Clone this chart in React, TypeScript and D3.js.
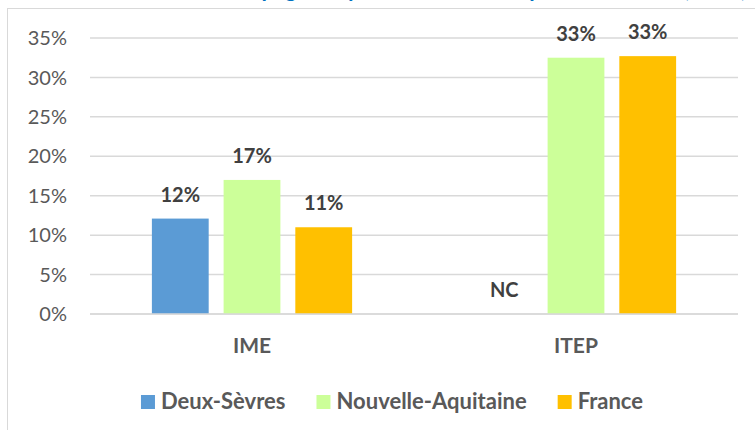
import { useEffect, useRef } from 'react';
import * as d3 from 'd3';

const categories = ['IME', 'ITEP'];
const seriesNames = ['Deux-Sèvres', 'Nouvelle-Aquitaine', 'France'];
const seriesColors = ['#5B9BD5', '#CCFF99', '#FFC000'];
// null = non communiqué (NC)
const deuxSevres = [12.1, null];
const nouvelleAquitaine = [17.0, 32.5];
const france = [11.0, 32.7];
const valueLabels = [['12%', 'NC'], ['17%', '33%'], ['11%', '33%']];
const yTicks = [0, 5, 10, 15, 20, 25, 30, 35];
const title = 'Taux des accompagnés ayant une insertion professionnelle (2019)';

const W = 755;
const H = 430;

export default function App() {
  const ref = useRef<SVGSVGElement>(null);

  useEffect(() => {
    if (!ref.current) return;
    const svg = d3.select(ref.current);
    svg.selectAll('*').remove();

    const font = 'Lato, "Open Sans", sans-serif';
    const left = 90, right = 738, top = 38, bottom = 314;
    const values = [deuxSevres, nouvelleAquitaine, france];

    // chart frame (cropped on right and bottom)
    svg.append('rect')
      .attr('x', 7.5).attr('y', 8.5)
      .attr('width', 900).attr('height', 600)
      .attr('fill', '#fff')
      .attr('stroke', '#D9D9D9');

    // title, only its descenders show above the frame
    svg.append('text')
      .attr('x', 108).attr('y', -3)
      .style('font-family', font)
      .style('font-size', '22px')
      .style('font-weight', 'bold')
      .style('fill', '#0070C0')
      .text(title);

    const y = d3.scaleLinear().domain([0, 35]).range([bottom, top]);
    const x0 = d3.scaleBand<string>()
      .domain(categories)
      .range([left, right])
      .paddingInner(0.382)
      .paddingOuter(0.191);
    const x1 = d3.scaleBand<string>()
      .domain(seriesNames)
      .range([0, x0.bandwidth()])
      .paddingInner(0.208);

    // gridlines
    svg.append('g')
      .selectAll('line')
      .data(yTicks)
      .join('line')
      .attr('x1', left).attr('x2', right)
      .attr('y1', d => y(d)).attr('y2', d => y(d))
      .attr('stroke', '#D9D9D9')
      .attr('stroke-width', 1.5);

    svg.append('g')
      .selectAll('text')
      .data(yTicks)
      .join('text')
      .attr('x', 67).attr('y', d => y(d))
      .attr('dy', '0.36em')
      .attr('text-anchor', 'end')
      .style('font-family', font)
      .style('font-size', '20px')
      .style('fill', '#595959')
      .text(d => `${d}%`);

    // bars + labels
    seriesNames.forEach((name, si) => {
      const g = svg.append('g');
      const rows = categories.map((c, ci) => ({ c, v: values[si][ci], label: valueLabels[si][ci] }));
      g.selectAll('rect')
        .data(rows.filter(r => r.v != null))
        .join('rect')
        .attr('x', r => (x0(r.c) ?? 0) + (x1(name) ?? 0))
        .attr('width', x1.bandwidth())
        .attr('y', r => y(r.v as number))
        .attr('height', r => bottom - y(r.v as number))
        .attr('fill', seriesColors[si]);
      g.selectAll('text')
        .data(rows)
        .join('text')
        .attr('x', r => (x0(r.c) ?? 0) + (x1(name) ?? 0) + x1.bandwidth() / 2)
        .attr('y', r => y(r.v ?? 0) - 17)
        .attr('text-anchor', 'middle')
        .style('font-family', font)
        .style('font-size', '20px')
        .style('font-weight', 'bold')
        .style('fill', '#404040')
        .text(r => r.label);
    });

    // baseline on top of bars
    svg.append('line')
      .attr('x1', left).attr('x2', right)
      .attr('y1', bottom).attr('y2', bottom)
      .attr('stroke', '#D9D9D9')
      .attr('stroke-width', 1.5);

    // category labels
    svg.append('g')
      .selectAll('text')
      .data(categories)
      .join('text')
      .attr('x', d => (x0(d) ?? 0) + x0.bandwidth() / 2)
      .attr('y', 353)
      .attr('text-anchor', 'middle')
      .style('font-family', font)
      .style('font-size', '21px')
      .style('font-weight', 'bold')
      .style('fill', '#595959')
      .text(d => d);

    // legend
    const legend = svg.append('g');
    const items = legend.selectAll('g')
      .data(seriesNames)
      .join('g');
    items.append('rect')
      .attr('width', 14).attr('height', 14)
      .attr('y', 395)
      .attr('fill', (_, i) => seriesColors[i]);
    const labels = items.append('text')
      .attr('x', 20).attr('y', 409)
      .style('font-family', font)
      .style('font-size', '22px')
      .style('font-weight', 'bold')
      .style('fill', '#595959')
      .text(d => d);
    let cx = 0;
    const offsets: number[] = [];
    labels.each(function () {
      offsets.push(cx);
      cx += 20 + (this as SVGTextElement).getComputedTextLength() + 31;
    });
    const total = cx - 31;
    const start = 392 - total / 2;
    items.attr('transform', (_, i) => `translate(${start + offsets[i]},0)`);
  }, []);

  return (
    <svg ref={ref} width={W} height={H} style={{ display: 'block', position: 'absolute', left: 0, top: 0 }} />
  );
}
